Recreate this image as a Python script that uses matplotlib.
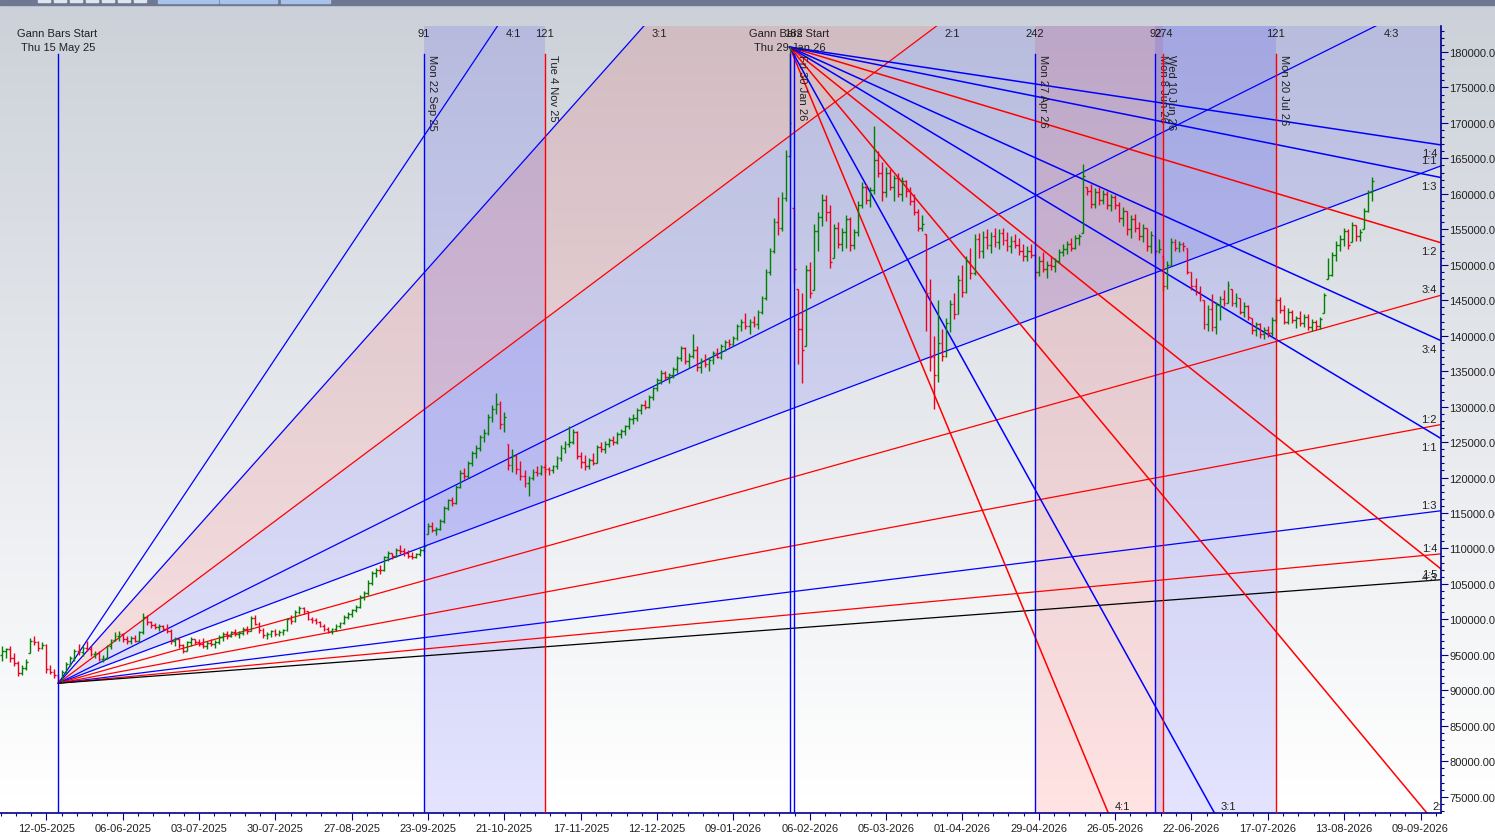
import matplotlib.pyplot as plt
import matplotlib.transforms as mtransforms
from matplotlib.patches import Rectangle
from matplotlib.ticker import MultipleLocator
import numpy as np

plt.rcParams['font.family'] = ['Liberation Sans', 'DejaVu Sans']

# price bars, values in thousands, first bar index relative to 12-05-2025
first_bar = -11
first_open = 95.0
highs = [
    96.2, 96.0, 96.3, 95.3, 94.2, 93.5, 94.4, 97.4, 97.6, 96.9,
    96.8, 96.5, 93.6, 93.0, 92.2, 92.9, 94.0, 94.8, 95.8, 96.6,
    96.3, 96.9, 96.2, 95.6, 95.5, 95.0, 96.4, 97.3, 98.2, 98.4,
    98.1, 97.6, 97.6, 97.8, 98.4, 100.9, 100.6, 99.8, 99.5, 99.4,
    99.2, 99.3, 98.6, 97.5, 97.4, 96.6, 97.0, 97.5, 97.3, 97.2,
    97.4, 96.9, 97.3, 97.1, 97.8, 98.2, 98.3, 98.4, 98.6, 98.3,
    98.9, 99.0, 100.5, 100.6, 99.6, 98.8, 98.2, 98.5, 98.6, 98.5,
    98.6, 100.2, 100.6, 101.3, 101.9, 101.7, 101.2, 100.4, 100.2, 99.8,
    99.3, 98.9, 98.8, 99.3, 99.7, 100.6, 101.0, 101.5, 102.0, 103.5,
    104.0, 105.5, 106.8, 107.3, 107.6, 109.0, 109.6, 109.4, 110.1, 110.5,
    110.0, 109.8, 109.5, 109.4, 110.0, 110.6, 113.6, 113.8, 113.0, 114.2,
    116.0, 117.0, 117.3, 119.0, 121.0, 121.4, 122.4, 123.8, 124.6, 126.0,
    126.8, 129.0, 130.2, 131.9, 130.8, 129.2, 124.8, 124.0, 123.3, 122.4,
    121.0, 120.2, 121.2, 121.6, 121.8, 121.9, 121.5, 121.8, 123.0, 124.6,
    125.2, 127.2, 126.9, 126.6, 123.6, 123.2, 122.8, 123.4, 124.6, 125.0,
    125.2, 125.6, 125.8, 126.4, 126.9, 127.4, 128.6, 129.0, 129.8, 130.4,
    131.0, 131.6, 132.8, 134.0, 135.2, 135.0, 134.8, 135.6, 137.2, 138.6,
    138.4, 137.6, 140.3, 138.6, 136.8, 137.4, 137.0, 137.8, 138.2, 138.8,
    139.4, 139.6, 140.0, 141.6, 142.4, 143.2, 142.4, 142.8, 143.6, 145.6,
    149.4, 152.4, 156.6, 159.6, 160.2, 166.2, 180.8, 158.0, 146.6, 146.0,
    150.0, 150.4, 155.7, 157.5, 160.0, 159.8, 158.5, 155.8, 156.0, 155.2,
    157.0, 156.8, 155.0, 159.0, 161.7, 161.4, 161.0, 169.5, 166.0, 164.5,
    163.8, 163.5, 162.6, 163.0, 162.4, 162.0, 161.0, 160.0, 157.8, 157.0,
    154.3, 148.0, 140.0, 145.0, 141.0, 142.5, 145.0, 146.0, 148.5, 150.0,
    151.2, 152.4, 154.3, 154.5, 154.8, 155.0, 154.6, 155.2, 155.0, 155.2,
    154.6, 154.0, 154.4, 153.8, 153.0, 152.6, 153.0, 151.6, 151.2, 151.8,
    150.6, 151.2, 151.0, 152.2, 153.0, 153.4, 153.8, 154.2, 154.4, 164.2,
    161.0, 161.4, 160.8, 161.0, 160.6, 160.4, 160.0, 159.8, 158.8, 158.2,
    157.6, 157.0, 157.2, 156.0, 155.7, 155.2, 154.8, 154.0, 153.6, 151.2,
    150.5, 153.8, 153.6, 153.4, 153.2, 152.3, 149.0, 148.2, 147.0, 145.0,
    144.4, 145.9, 144.8, 145.6, 146.4, 147.7, 146.6, 146.0, 145.3, 144.8,
    144.4, 142.5, 142.0, 141.8, 141.2, 141.4, 142.6, 145.3, 145.4, 144.4,
    143.9, 143.6, 142.8, 143.5, 143.0, 143.0, 142.4, 142.2, 142.6, 146.0,
    151.0, 151.8, 153.3, 154.2, 155.2, 155.0, 156.0, 155.6, 155.0, 158.0,
    160.5, 162.4,
]
lows = [
    94.2, 94.5, 94.0, 93.4, 92.0, 92.2, 92.8, 95.3, 96.4, 95.6,
    95.8, 92.4, 92.3, 91.8, 91.0, 91.2, 92.3, 93.4, 94.2, 95.0,
    94.9, 95.5, 94.8, 94.6, 94.2, 94.0, 94.4, 95.8, 96.9, 97.0,
    96.8, 96.6, 96.5, 96.8, 96.8, 98.0, 99.2, 98.8, 98.6, 98.3,
    98.4, 98.1, 96.6, 96.2, 95.9, 95.2, 95.5, 96.3, 96.5, 96.2,
    96.0, 95.8, 96.2, 95.9, 96.5, 97.0, 97.2, 97.5, 97.6, 97.4,
    97.8, 98.0, 98.4, 99.2, 98.1, 97.4, 97.3, 97.5, 97.7, 97.6,
    97.8, 98.3, 99.3, 99.6, 100.8, 100.7, 99.9, 99.5, 99.4, 98.9,
    98.4, 98.1, 98.0, 98.4, 98.8, 99.3, 100.0, 100.4, 101.0, 101.6,
    102.8, 103.5, 104.9, 106.0, 106.4, 106.8, 108.3, 108.5, 108.8, 109.2,
    109.0, 108.7, 108.5, 108.6, 108.9, 109.5, 112.0, 112.3, 111.9, 112.6,
    113.6, 115.4, 116.0, 116.2, 118.5, 119.8, 119.9, 121.6, 122.8, 123.8,
    125.0, 126.0, 127.9, 128.9, 126.8, 126.4, 121.0, 120.8, 120.5, 119.6,
    118.6, 117.4, 119.6, 120.2, 120.3, 120.6, 120.4, 120.6, 121.2, 122.4,
    123.4, 124.3, 124.8, 122.6, 121.4, 121.0, 121.2, 121.8, 122.0, 123.6,
    123.5, 124.3, 124.6, 124.8, 125.6, 126.0, 126.8, 127.6, 128.0, 129.0,
    129.6, 129.8, 131.0, 132.2, 133.2, 133.8, 133.4, 134.0, 134.8, 136.4,
    136.0, 135.5, 136.8, 135.0, 134.8, 135.6, 135.0, 136.0, 136.8, 136.7,
    137.8, 138.4, 138.5, 139.4, 140.6, 141.0, 140.3, 141.2, 141.0, 143.0,
    145.0, 148.6, 151.6, 154.2, 154.8, 159.0, 165.2, 147.5, 136.0, 133.4,
    138.5, 145.3, 146.5, 152.0, 155.5, 156.2, 149.5, 151.0, 152.3, 152.0,
    152.4, 152.0, 152.2, 154.0, 158.0, 158.6, 158.2, 160.0, 162.4, 159.0,
    159.6, 160.5, 159.0, 159.5, 159.0, 159.6, 158.4, 157.0, 154.8, 154.7,
    140.7, 135.0, 129.6, 133.5, 136.5, 137.0, 140.5, 142.4, 143.0, 145.5,
    146.0, 148.0, 148.5, 151.0, 151.0, 152.2, 151.6, 152.5, 152.2, 152.8,
    152.0, 151.6, 152.3, 151.4, 150.5, 150.5, 151.0, 148.0, 148.4, 149.0,
    148.2, 149.2, 149.0, 150.2, 151.2, 151.5, 152.0, 152.2, 152.8, 154.5,
    159.8, 158.0, 158.0, 158.4, 158.6, 157.8, 157.6, 157.8, 156.0, 155.4,
    154.2, 153.8, 154.6, 153.5, 153.2, 152.0, 151.6, 151.4, 151.6, 146.3,
    146.6, 149.8, 152.0, 151.8, 152.0, 148.7, 146.5, 145.8, 144.9, 141.0,
    140.7, 140.6, 140.3, 142.2, 144.2, 144.6, 144.2, 144.0, 143.0, 142.6,
    142.2, 140.2, 140.0, 139.7, 139.6, 139.8, 140.0, 141.8, 143.2, 141.7,
    141.6, 141.8, 141.1, 141.4, 141.2, 140.8, 140.7, 140.8, 141.0, 143.2,
    148.0, 148.4, 150.5, 152.0, 152.6, 152.2, 153.2, 153.3, 153.3, 155.0,
    157.5, 159.0,
]
closes = [
    95.5, 95.8, 94.6, 93.8, 92.4, 93.2, 94.0, 97.0, 96.8, 96.0,
    96.4, 93.0, 92.6, 92.2, 91.4, 92.6, 93.7, 94.5, 95.6, 95.4,
    96.0, 95.8, 95.1, 95.2, 94.4, 94.5, 96.2, 97.1, 97.6, 98.0,
    97.2, 96.9, 97.4, 97.0, 98.2, 100.4, 99.6, 99.2, 98.9, 99.1,
    98.6, 98.4, 97.0, 97.3, 96.4, 95.6, 96.8, 97.2, 96.8, 96.6,
    96.3, 96.7, 96.5, 96.8, 97.5, 97.9, 97.6, 98.2, 97.9, 98.1,
    98.7, 98.4, 100.2, 99.4, 98.5, 97.8, 97.9, 98.3, 97.9, 98.2,
    98.5, 100.0, 99.8, 101.0, 101.6, 101.2, 100.1, 99.9, 99.6, 99.1,
    98.6, 98.3, 98.6, 99.1, 99.5, 100.4, 100.8, 101.3, 101.8, 103.2,
    103.7, 105.2, 106.5, 107.0, 106.9, 108.8, 109.3, 109.0, 109.8, 109.6,
    109.4, 109.0, 108.8, 109.2, 109.8, 110.4, 113.2, 112.6, 112.8, 113.9,
    115.7, 116.8, 116.4, 118.7, 120.6, 120.2, 122.0, 123.4, 124.2, 125.7,
    126.3, 128.6, 129.6, 130.4, 127.5, 128.6, 121.8, 123.1, 121.2, 120.2,
    119.3, 119.9, 120.8, 120.6, 121.5, 121.2, 121.0, 121.6, 122.7, 124.2,
    124.8, 125.0, 126.4, 123.0, 122.2, 121.6, 122.5, 122.0, 124.3, 124.0,
    124.8, 125.3, 125.0, 126.2, 126.5, 127.2, 128.3, 128.4, 129.5, 130.2,
    130.0, 131.3, 132.6, 133.8, 134.8, 134.2, 134.5, 135.3, 136.9, 138.2,
    136.4, 137.2, 138.0, 135.6, 136.4, 136.0, 136.6, 137.5, 137.0, 138.5,
    139.1, 138.8, 139.7, 141.3, 142.0, 141.4, 142.0, 141.6, 143.3, 145.3,
    149.0, 152.0, 156.0, 155.2, 159.4, 165.4, 170.0, 149.4, 141.0, 138.0,
    149.2, 146.0, 154.8, 156.8, 159.2, 157.4, 150.4, 155.2, 153.0, 154.6,
    156.5, 152.8, 154.6, 158.4, 161.0, 159.2, 160.5, 164.8, 163.0, 160.2,
    162.9, 161.0, 162.2, 160.0, 161.8, 160.4, 159.0, 157.5, 155.2, 155.8,
    146.0, 137.0, 134.5, 139.0, 137.2, 141.8, 144.5, 143.0, 147.8, 146.2,
    150.6, 148.8, 153.6, 152.0, 153.9, 152.8, 154.0, 153.2, 154.5, 153.5,
    152.6, 153.4, 152.8, 152.0, 151.2, 152.0, 151.4, 149.0, 150.6, 149.4,
    150.0, 149.8, 150.5, 151.8, 152.2, 152.9, 152.4, 153.8, 154.0, 162.5,
    160.4, 158.6, 160.2, 159.2, 160.0, 158.4, 159.5, 158.4, 156.6, 157.6,
    155.0, 156.4, 155.2, 154.0, 155.2, 152.6, 154.2, 152.0, 152.2, 147.0,
    150.0, 153.2, 152.4, 153.0, 152.6, 149.0, 147.0, 146.2, 145.4, 141.6,
    143.8, 141.2, 144.4, 145.2, 144.6, 147.2, 144.6, 145.5, 143.4, 144.2,
    142.6, 140.8, 141.6, 140.2, 140.8, 140.4, 142.2, 145.0, 143.6, 142.0,
    143.4, 142.2, 142.5, 141.8, 142.6, 141.2, 142.0, 141.4, 142.3, 145.8,
    148.6, 151.4, 152.8, 153.6, 154.8, 152.8, 155.6, 154.0, 154.6, 157.6,
    160.2, 161.8,
]

date_labels = ['12-05-2025', '06-06-2025', '03-07-2025', '30-07-2025', '27-08-2025',
               '23-09-2025', '21-10-2025', '17-11-2025', '12-12-2025', '09-01-2026',
               '06-02-2026', '05-03-2026', '01-04-2026', '29-04-2026', '26-05-2026',
               '22-06-2026', '17-07-2026', '13-08-2026', '09-09-2026']
bars_per_label = 19

# Gann fans: origin (bar, price k), price per bar of the 1x1 line
fan1_origin = (3, 91.0)
fan1_unit = 0.212
fan1_ratios = ['4:1', '3:1', '2:1', '4:3', '1:1', '3:4', '1:2', '1:3', '1:4', '1:5']
fan1_colors = ['blue', 'blue', 'red', 'blue', 'blue', 'red', 'red', 'blue', 'red', 'black']

fan2_origin = (185, 180.7)
fan2_unit = 0.3405
fan2_ratios = ['4:1', '3:1', '2:1', '4:3', '1:1', '3:4', '1:2', '1:3', '1:4']
fan2_colors = ['red', 'blue', 'red', 'red', 'blue', 'blue', 'red', 'blue', 'blue']

# time markers: bar, colour, rotated date label, bar count label
markers = [
    (3, 'blue', '', ''),
    (94, 'blue', 'Mon 22 Sep 25', '91'),
    (124, 'red', 'Tue 4 Nov 25', '121'),
    (185, 'blue', '', ''),
    (186, 'blue', 'Fri 30 Jan 26', '182'),
    (246, 'blue', 'Mon 27 Apr 26', '242'),
    (276, 'blue', 'Mon 8 Jun 26', '92'),
    (278, 'red', 'Wed 10 Jun 26', '274'),
    (306, 'red', 'Mon 20 Jul 26', '121'),
]
# shaded time windows
windows = [(94, 124, 'blue'), (246, 278, 'red'), (276, 306, 'blue')]
starts = [(3, 'Thu 15 May 25'), (185, 'Thu 29 Jan 26')]

W, H = 1495, 837
fig = plt.figure(figsize=(W / 100, H / 100), dpi=100)

# background gradient
rows = np.arange(H)
t = np.clip((rows - 6) / 790.0, 0, 1)
top = np.array([204, 209, 217]) / 255.0
grad = top[None, :] * (1 - t[:, None]) + t[:, None]
bg = fig.add_axes([0, 0, 1, 1], zorder=-5)
bg.imshow(grad[:, None, :], aspect='auto', extent=(0, 1, 0, 1))
bg.axis('off')

# window toolbar strip
fig.add_artist(Rectangle((0, 1 - 6 / H), 1, 6 / H, transform=fig.transFigure,
                         color='#6e7891', zorder=10))
for x0, x1 in [(158, 218), (220, 277), (281, 330)]:
    fig.add_artist(Rectangle((x0 / W, 1 - 4 / H), (x1 - x0) / W, 4 / H,
                             transform=fig.transFigure, color='#a9c2ea', zorder=11))
for x0 in range(38, 150, 16):
    fig.add_artist(Rectangle((x0 / W, 1 - 3 / H), 12 / W, 3 / H,
                             transform=fig.transFigure, color='#dfe6f2', zorder=11))

ax = fig.add_axes([0, 23 / H, 1441 / W, 787 / H], zorder=0)
ax.set_facecolor('none')
xmin, xmax = -11.54, 347.1
ymin, ymax = 72.70, 183.67
ax.set_xlim(xmin, xmax)
ax.set_ylim(ymin, ymax)

def px(dx, dy, base=None):
    return mtransforms.offset_copy(base if base is not None else ax.transData,
                                   fig=fig, x=dx, y=dy, units='dots')

top_tr = mtransforms.blended_transform_factory(ax.transData, ax.transAxes)

# shaded windows
for b0, b1, col in windows:
    ax.axvspan(b0, b1, color=col, alpha=0.11, lw=0, zorder=1)

def ratio(s):
    a, b = s.split(':')
    return float(a) / float(b)

# fan 1 (rising) with fills
x0, p0 = fan1_origin
xs = np.array([x0, xmax])
lines1 = {r: p0 + fan1_unit * ratio(r) * (xs - x0) for r in fan1_ratios}
ax.fill_between(xs, lines1['2:1'], lines1['3:1'], color='red', alpha=0.1, lw=0, zorder=1)
ax.fill_between(xs, lines1['1:1'], lines1['2:1'], color='blue', alpha=0.1, lw=0, zorder=1)
for r, col in zip(fan1_ratios, fan1_colors):
    ys = lines1[r]
    ax.plot(xs, ys, color=col, lw=0.9, zorder=2)
    if ys[1] > ymax:
        xe = x0 + (ymax - p0) / (fan1_unit * ratio(r))
        ax.text(xe, 1, r, transform=px(8, -7, top_tr), ha='left', va='center',
                fontsize=8, color='#202020', clip_on=True)
    else:
        ax.text(xmax, ys[1], r, transform=px(-4, 6), ha='right', va='center',
                fontsize=8, color='#202020', clip_on=True)

# fan 2 (falling)
x0, p0 = fan2_origin
xs2 = np.array([x0, xmax])
for r, col in zip(fan2_ratios, fan2_colors):
    ys = p0 - fan2_unit * ratio(r) * (xs2 - x0)
    ax.plot(xs2, ys, color=col, lw=1.1, zorder=2)
    if ys[1] < ymin:
        xe = x0 + (p0 - ymin) / (fan2_unit * ratio(r))
        ax.text(xe, ymin, r, transform=px(6, 7), ha='left', va='center',
                fontsize=8, color='#202020', clip_on=True)
    else:
        ax.text(xmax, ys[1], r, transform=px(-4, -8), ha='right', va='center',
                fontsize=8, color='#202020', clip_on=True)

# OHLC bars
bars = np.arange(first_bar, first_bar + len(closes))
hi = np.array(highs)
lo = np.array(lows)
cl = np.array(closes)
op = np.clip(np.r_[first_open, cl[:-1]], lo, hi)
up = cl >= op
for mask, col in ((up, '#008000'), (~up, '#ee0020')):
    ax.vlines(bars[mask], lo[mask], hi[mask], color=col, lw=1.0, zorder=3)
    ax.hlines(op[mask], bars[mask] - 0.45, bars[mask], color=col, lw=1.0, zorder=3)
    ax.hlines(cl[mask], bars[mask], bars[mask] + 0.45, color=col, lw=1.0, zorder=3)

# time markers
vtop = (814 - 55) / 787
for b, col, lab, cnt in markers:
    ax.axvline(b, ymin=0, ymax=vtop, color=col, lw=1.0, zorder=4)
    if lab:
        ax.text(b, 1, lab, transform=px(3, -28, top_tr), rotation=270,
                ha='left', va='top', fontsize=8, color='#202020')
    if cnt:
        ax.text(b, 1, cnt, transform=px(0, -7, top_tr), ha='center', va='center',
                fontsize=8, color='#202020')

for b, lab in starts:
    ax.text(b, 1, 'Gann Bars Start', transform=px(-1, -7, top_tr), ha='center',
            va='center', fontsize=8, color='#202020')
    ax.text(b, 1, lab, transform=px(0, -21, top_tr), ha='center',
            va='center', fontsize=8, color='#202020')

# axes styling
navy = '#00008b'
for side in ('left', 'top'):
    ax.spines[side].set_visible(False)
for side in ('right', 'bottom'):
    ax.spines[side].set_color(navy)
    ax.spines[side].set_linewidth(1.2)
ax.yaxis.tick_right()
yt = np.arange(75, 181, 5)
ax.set_yticks(yt)
ax.set_yticklabels([f'{v * 1000:.2f}' for v in yt])
ax.yaxis.set_minor_locator(MultipleLocator(1))
xt = np.arange(len(date_labels)) * bars_per_label
ax.set_xticks(xt)
ax.set_xticklabels(date_labels)
ax.xaxis.set_minor_locator(MultipleLocator(bars_per_label / 5))
ax.tick_params(which='major', length=5, width=0.8, color=navy, labelsize=8,
               labelcolor='#222222', pad=2)
ax.tick_params(axis='y', which='major', pad=1)
ax.tick_params(which='minor', length=2.5, width=0.8, color=navy)

fig.savefig('out.png', dpi=100)
